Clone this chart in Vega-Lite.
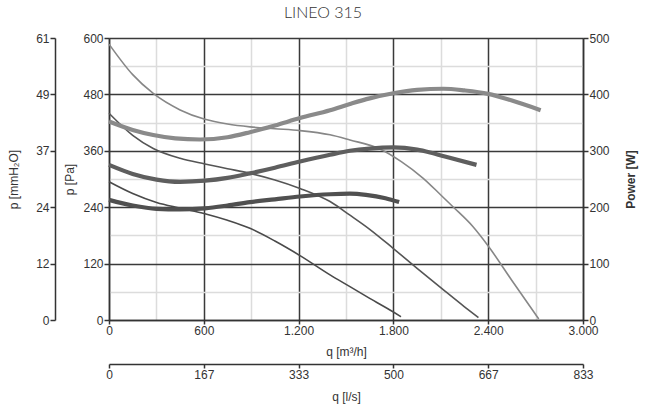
{
  "$schema": "https://vega.github.io/schema/vega-lite/v6.json",
  "width": 474,
  "height": 282,
  "autosize": {"type": "none"},
  "padding": {"left": 109, "top": 38, "right": 62, "bottom": 90},
  "background": "white",
  "title": {"text": "LINEO 315", "font": "Lato", "fontSize": 16, "fontWeight": 300, "color": "#333", "offset": 11, "dx": -23, "anchor": "middle"},
  "datasets": {
    "pressure": [
      {"curve": "p1", "q": 0, "p": 587}, {"curve": "p1", "q": 150, "p": 522}, {"curve": "p1", "q": 280, "p": 482}, {"curve": "p1", "q": 450, "p": 447}, {"curve": "p1", "q": 607, "p": 427}, {"curve": "p1", "q": 750, "p": 417}, {"curve": "p1", "q": 892, "p": 411}, {"curve": "p1", "q": 1050, "p": 407}, {"curve": "p1", "q": 1209, "p": 403}, {"curve": "p1", "q": 1399, "p": 394}, {"curve": "p1", "q": 1525, "p": 383}, {"curve": "p1", "q": 1715, "p": 364}, {"curve": "p1", "q": 1850, "p": 337}, {"curve": "p1", "q": 1987, "p": 302}, {"curve": "p1", "q": 2100, "p": 266}, {"curve": "p1", "q": 2177, "p": 241}, {"curve": "p1", "q": 2300, "p": 200}, {"curve": "p1", "q": 2399, "p": 158}, {"curve": "p1", "q": 2550, "p": 84}, {"curve": "p1", "q": 2720, "p": 2},
      {"curve": "p2", "q": 0, "p": 440}, {"curve": "p2", "q": 150, "p": 393}, {"curve": "p2", "q": 280, "p": 365}, {"curve": "p2", "q": 450, "p": 344}, {"curve": "p2", "q": 607, "p": 332}, {"curve": "p2", "q": 750, "p": 322}, {"curve": "p2", "q": 892, "p": 312}, {"curve": "p2", "q": 1050, "p": 298}, {"curve": "p2", "q": 1209, "p": 280}, {"curve": "p2", "q": 1399, "p": 252}, {"curve": "p2", "q": 1525, "p": 223}, {"curve": "p2", "q": 1650, "p": 193}, {"curve": "p2", "q": 1800, "p": 152}, {"curve": "p2", "q": 1950, "p": 110}, {"curve": "p2", "q": 2117, "p": 64}, {"curve": "p2", "q": 2250, "p": 28}, {"curve": "p2", "q": 2338, "p": 5},
      {"curve": "p3", "q": 0, "p": 294}, {"curve": "p3", "q": 150, "p": 269}, {"curve": "p3", "q": 301, "p": 250}, {"curve": "p3", "q": 450, "p": 238}, {"curve": "p3", "q": 607, "p": 226}, {"curve": "p3", "q": 750, "p": 212}, {"curve": "p3", "q": 892, "p": 195}, {"curve": "p3", "q": 1050, "p": 168}, {"curve": "p3", "q": 1209, "p": 137}, {"curve": "p3", "q": 1399, "p": 96}, {"curve": "p3", "q": 1525, "p": 71}, {"curve": "p3", "q": 1650, "p": 46}, {"curve": "p3", "q": 1800, "p": 17}, {"curve": "p3", "q": 1848, "p": 7}
    ],
    "power": [
      {"curve": "w1", "q": 0, "w": 352}, {"curve": "w1", "q": 150, "w": 337}, {"curve": "w1", "q": 280, "w": 328}, {"curve": "w1", "q": 420, "w": 322}, {"curve": "w1", "q": 576, "w": 320}, {"curve": "w1", "q": 750, "w": 324}, {"curve": "w1", "q": 892, "w": 333}, {"curve": "w1", "q": 1050, "w": 345}, {"curve": "w1", "q": 1209, "w": 358}, {"curve": "w1", "q": 1399, "w": 372}, {"curve": "w1", "q": 1525, "w": 383}, {"curve": "w1", "q": 1650, "w": 393}, {"curve": "w1", "q": 1800, "w": 402}, {"curve": "w1", "q": 1950, "w": 408}, {"curve": "w1", "q": 2117, "w": 410}, {"curve": "w1", "q": 2250, "w": 407}, {"curve": "w1", "q": 2399, "w": 401}, {"curve": "w1", "q": 2550, "w": 389}, {"curve": "w1", "q": 2732, "w": 372},
      {"curve": "w2", "q": 0, "w": 275}, {"curve": "w2", "q": 150, "w": 259}, {"curve": "w2", "q": 301, "w": 249}, {"curve": "w2", "q": 450, "w": 245}, {"curve": "w2", "q": 607, "w": 247}, {"curve": "w2", "q": 750, "w": 252}, {"curve": "w2", "q": 892, "w": 260}, {"curve": "w2", "q": 1050, "w": 270}, {"curve": "w2", "q": 1209, "w": 281}, {"curve": "w2", "q": 1399, "w": 293}, {"curve": "w2", "q": 1525, "w": 300}, {"curve": "w2", "q": 1650, "w": 304}, {"curve": "w2", "q": 1800, "w": 306}, {"curve": "w2", "q": 1950, "w": 302}, {"curve": "w2", "q": 2032, "w": 297}, {"curve": "w2", "q": 2150, "w": 288}, {"curve": "w2", "q": 2326, "w": 275},
      {"curve": "w3", "q": 0, "w": 213}, {"curve": "w3", "q": 150, "w": 203}, {"curve": "w3", "q": 301, "w": 197}, {"curve": "w3", "q": 450, "w": 196}, {"curve": "w3", "q": 607, "w": 198}, {"curve": "w3", "q": 750, "w": 203}, {"curve": "w3", "q": 892, "w": 209}, {"curve": "w3", "q": 1050, "w": 214}, {"curve": "w3", "q": 1209, "w": 219}, {"curve": "w3", "q": 1399, "w": 223}, {"curve": "w3", "q": 1525, "w": 224}, {"curve": "w3", "q": 1626, "w": 222}, {"curve": "w3", "q": 1750, "w": 216}, {"curve": "w3", "q": 1836, "w": 209}
    ]
  },
  "layer": [
    {
      "data": {"name": "pressure"},
      "mark": {"type": "line", "opacity": 0},
      "encoding": {
        "x": {"field": "q", "type": "quantitative", "scale": {"domain": [0, 3000], "nice": false},
              "axis": {"orient": "bottom", "values": [300, 900, 1500, 2100, 2700], "grid": true, "gridColor": "#dcdcdc", "gridWidth": 1.5, "labels": false, "ticks": false, "domain": false, "title": null}},
        "y": {"field": "p", "type": "quantitative", "scale": {"domain": [0, 600], "nice": false},
              "axis": {"orient": "left", "values": [60, 180, 300, 420, 540], "grid": true, "gridColor": "#dcdcdc", "gridWidth": 1.5, "labels": false, "ticks": false, "domain": false, "title": null}},
        "detail": {"field": "curve"}
      }
    },
    {
      "data": {"name": "pressure"},
      "mark": {"type": "line", "interpolate": "monotone", "strokeWidth": 1.6},
      "encoding": {
        "x": {"field": "q", "type": "quantitative", "scale": {"domain": [0, 3000], "nice": false},
              "axis": {"orient": "bottom", "values": [0, 600, 1200, 1800, 2400, 3000], "grid": true, "gridColor": "#3a3a3a", "gridWidth": 1.5, "labelExpr": "replace(format(datum.value, ','), ',', '.')", "title": "q [m³/h]", "tickSize": 4, "labelPadding": 1, "titlePadding": 10}},
        "y": {"field": "p", "type": "quantitative", "scale": {"domain": [0, 600], "nice": false},
              "axis": {"orient": "left", "values": [0, 120, 240, 360, 480, 600], "grid": true, "gridColor": "#3a3a3a", "gridWidth": 1.5, "title": "p [Pa]", "tickSize": 5, "labelPadding": 1, "titlePadding": 6}},
        "color": {"field": "curve", "type": "nominal", "scale": {"domain": ["p1", "p2", "p3"], "range": ["#878787", "#555555", "#4a4a4a"]}, "legend": null}
      }
    },
    {
      "data": {"name": "power"},
      "mark": {"type": "line", "interpolate": "monotone", "strokeWidth": 4.2},
      "encoding": {
        "x": {"field": "q", "type": "quantitative", "scale": {"domain": [0, 3000], "nice": false}, "axis": null},
        "y": {"field": "w", "type": "quantitative", "scale": {"domain": [0, 500], "nice": false},
              "axis": {"orient": "right", "values": [0, 100, 200, 300, 400, 500], "grid": false, "title": "Power [W]", "titleFontWeight": "bold", "titleAngle": 270, "tickSize": 5, "labelPadding": 1, "titlePadding": 28}},
        "color": {"field": "curve", "type": "nominal", "scale": {"domain": ["w1", "w2", "w3"], "range": ["#8a8a8a", "#5e5e5e", "#505050"]}, "legend": null}
      }
    },
    {
      "data": {"name": "pressure"},
      "mark": {"type": "line", "opacity": 0},
      "encoding": {
        "x": {"field": "q", "type": "quantitative", "scale": {"domain": [0, 3000], "nice": false},
              "axis": {"orient": "bottom", "offset": 44, "values": [0, 600, 1200, 1800, 2400, 3000], "grid": false, "labelExpr": "'' + round(datum.value / 3.6)", "title": "q [l/s]", "tickSize": 4, "labelPadding": 1, "titlePadding": 11}},
        "y": {"field": "p", "type": "quantitative", "scale": {"domain": [0, 600], "nice": false},
              "axis": {"orient": "left", "offset": 54, "values": [0, 120, 240, 360, 480, 600], "grid": false, "labelExpr": "'' + round(datum.value / 9.81)", "title": "p [mmH₂O]", "tickSize": 5, "labelPadding": 1, "titlePadding": 15}},
        "detail": {"field": "curve"}
      }
    }
  ],
  "resolve": {
    "scale": {"x": "independent", "y": "independent", "color": "independent"},
    "axis": {"x": "independent", "y": "independent"}
  },
  "config": {
    "view": {"stroke": null},
    "axis": {
      "labelFont": "Liberation Sans", "labelFontSize": 12, "labelColor": "#333",
      "titleFont": "Liberation Sans", "titleFontSize": 12, "titleFontWeight": "normal", "titleColor": "#333",
      "domainColor": "#333", "domainWidth": 1.5, "tickColor": "#333", "tickWidth": 1.5,
      "labelFlush": false, "labelOverlap": false, "labelBound": false
    }
  }
}
